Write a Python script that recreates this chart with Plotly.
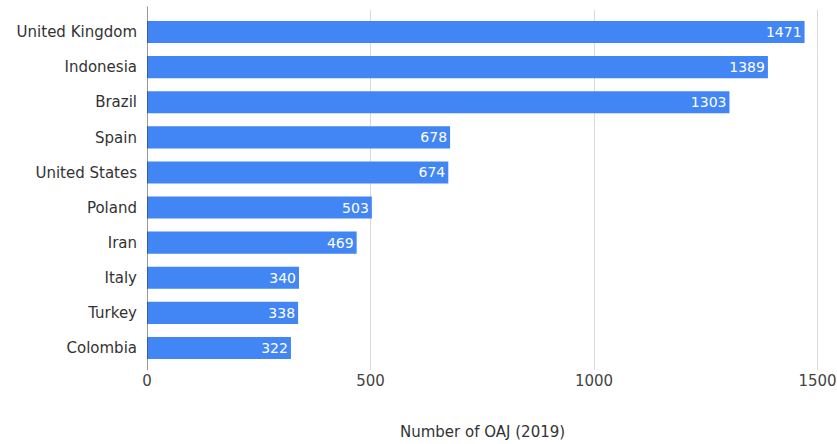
import plotly.graph_objects as go

countries = ["United Kingdom", "Indonesia", "Brazil", "Spain", "United States",
             "Poland", "Iran", "Italy", "Turkey", "Colombia"]
journals = [1471, 1389, 1303, 678, 674, 503, 469, 340, 338, 322]
x_ticks = [0, 500, 1000, 1500]
x_title = "Number of OAJ (2019)"

FONT = "DejaVu Sans, Liberation Sans, Arial"

fig = go.Figure(go.Bar(
    x=journals, y=countries, orientation="h",
    marker=dict(color="#4285F4", line=dict(width=0)),
    text=[str(v) for v in journals],
    textposition="inside", insidetextanchor="end",
    textfont=dict(color="white", size=14, family=FONT),
    width=0.63,
))

fig.update_layout(
    width=837, height=444,
    margin=dict(l=147, r=15, t=10, b=74),
    paper_bgcolor="white", plot_bgcolor="white",
    font=dict(family=FONT, size=15, color="#333333"),
    showlegend=False,
    xaxis=dict(range=[0, 1510], tickvals=x_ticks, ticktext=[str(t) for t in x_ticks],
               showgrid=True, gridcolor="#d9d9d9", gridwidth=1, zeroline=False,
               showline=False, ticks="", automargin=False, ticklabeloverflow="allow",
               tickfont=dict(size=15, color="#444444", family=FONT)),
    yaxis=dict(categoryorder="array", categoryarray=countries,
               range=[9.627, -0.627], showgrid=False, zeroline=False,
               showline=False, ticks="", ticklabelstandoff=9, automargin=False,
               tickfont=dict(size=15, color="#333333", family=FONT)),
    annotations=[dict(text=x_title, xref="x", yref="paper",
                      x=750, y=-0.172, xanchor="center", yanchor="middle",
                      showarrow=False, font=dict(size=15, color="#333333", family=FONT))],
    shapes=[dict(type="line", xref="x", yref="paper", x0=0, x1=0, y0=0, y1=1.01,
                 line=dict(color="#333333", width=1))],
)

fig.write_html("out.html", config={"displayModeBar": False},
               post_script="document.body.style.margin='0';document.body.style.overflow='hidden';")
